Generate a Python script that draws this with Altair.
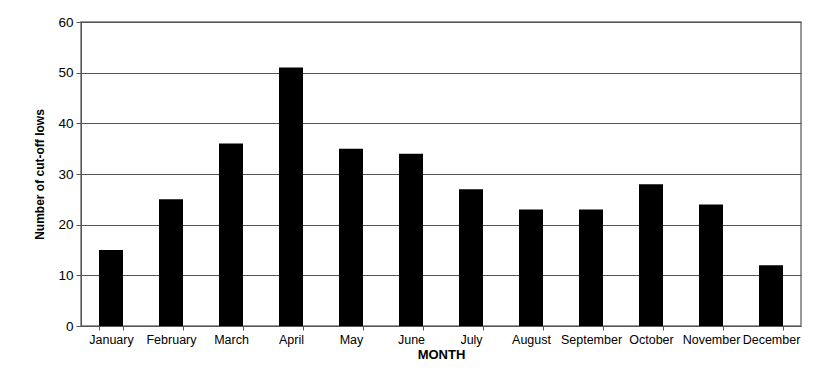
import altair as alt
import pandas as pd

months = ["January", "February", "March", "April", "May", "June", "July",
          "August", "September", "October", "November", "December"]
counts = [15, 25, 36, 51, 35, 34, 27, 23, 23, 28, 24, 12]

df = pd.DataFrame({"month": months, "count": counts})

chart = alt.Chart(df).mark_bar(color="black").encode(
    x=alt.X("month:N", sort=months, title="MONTH",
            scale=alt.Scale(paddingInner=0.6, paddingOuter=0.3),
            axis=alt.Axis(labelAngle=0, tickBand="extent", grid=False,
                          domainColor="#555", tickColor="#555", tickSize=4,
                          labelFont="Liberation Sans", labelFontSize=12.5,
                          labelColor="black", labelPadding=3,
                          titleFont="Liberation Sans", titleFontSize=13,
                          titleFontWeight="bold", titleColor="black",
                          titlePadding=3)),
    y=alt.Y("count:Q", title="Number of cut-off lows",
            scale=alt.Scale(domain=[0, 60], nice=False),
            axis=alt.Axis(values=[0, 10, 20, 30, 40, 50, 60], grid=True,
                          gridColor="#555", domainColor="#555", tickColor="#555",
                          tickSize=5, labelFont="Liberation Sans",
                          labelFontSize=13.5, labelColor="black", labelPadding=3,
                          titleFont="Liberation Sans", titleFontSize=12,
                          titleFontWeight="bold", titleColor="black",
                          titlePadding=11)),
).properties(
    width=720, height=304,
    autosize=alt.AutoSizeParams(type="none"),
    padding={"left": 81, "top": 22, "right": 31, "bottom": 50},
).configure_view(stroke="#777", strokeWidth=1.5)

chart.save("out.html", embed_options={"renderer": "svg", "actions": False})
